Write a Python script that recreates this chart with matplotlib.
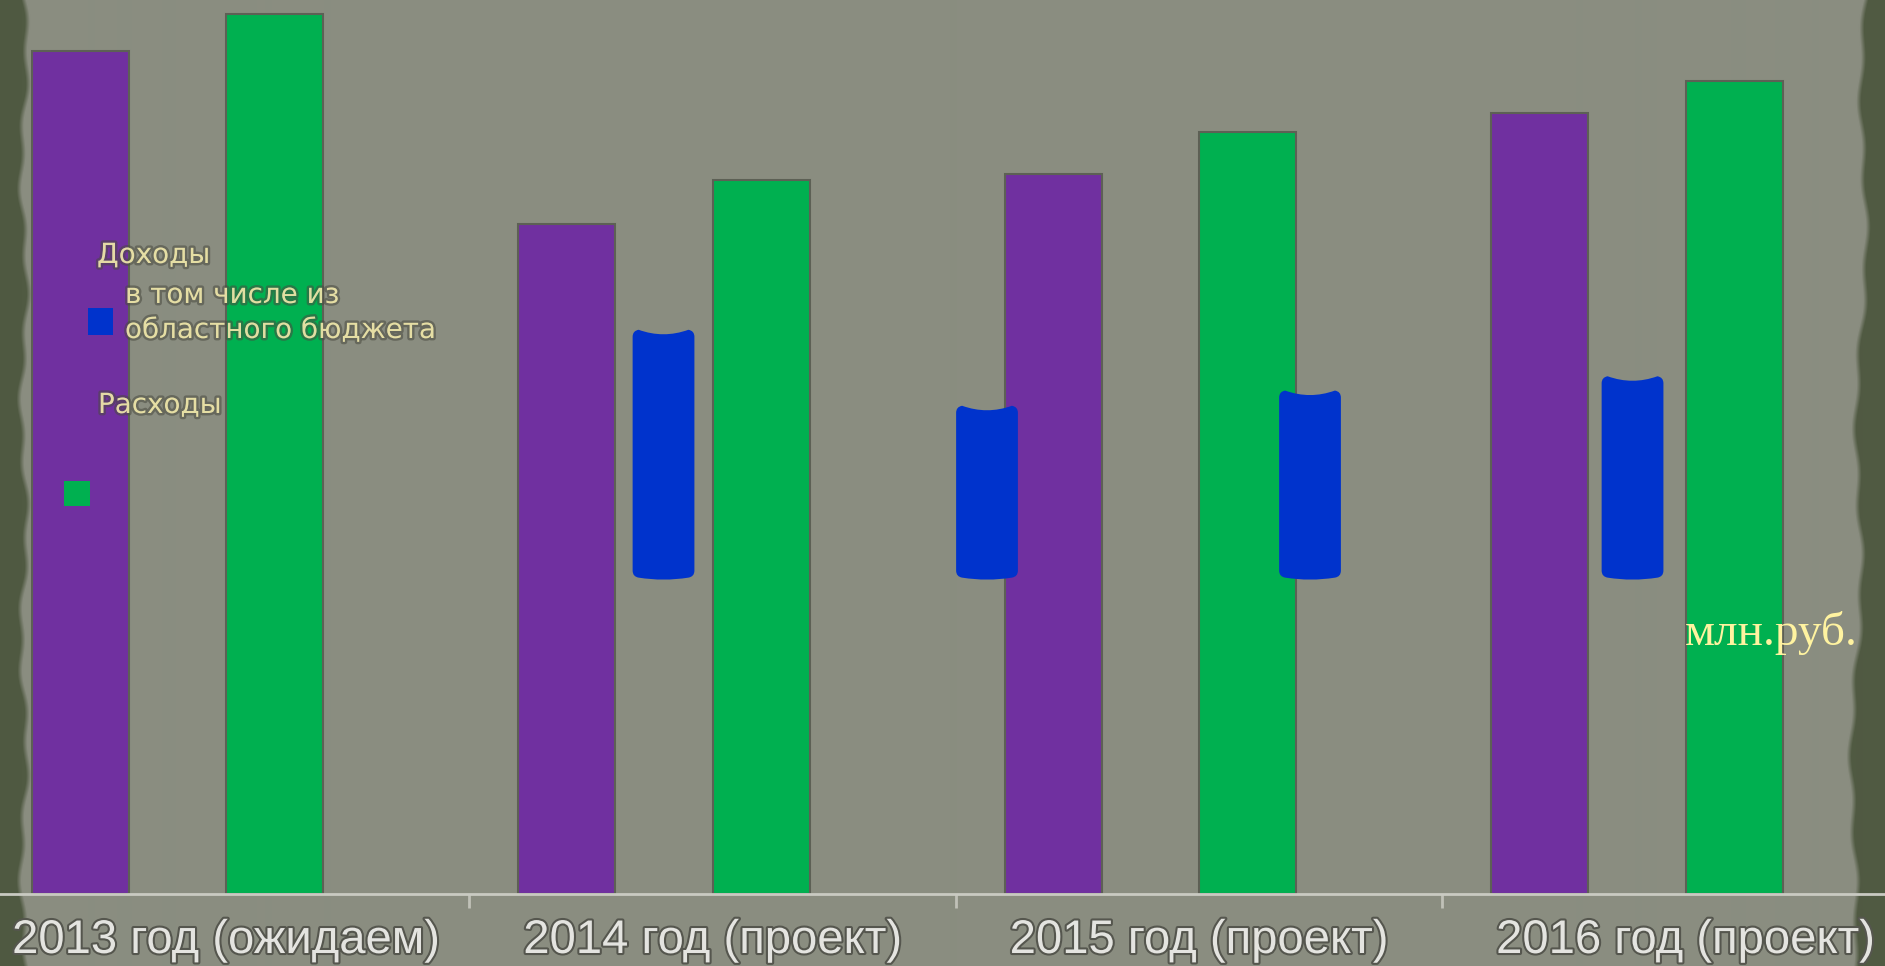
import numpy as np
import matplotlib
matplotlib.use("Agg")
import matplotlib.pyplot as plt
import matplotlib.patheffects as pe
from matplotlib.patches import Rectangle, PathPatch
from matplotlib.path import Path

# ---------------- data ----------------
categories = ["2013 год (ожидаем)", "2014 год (проект)", "2015 год (проект)", "2016 год (проект)"]
income = [943, 749, 805, 874]        # Доходы
expenses = [984, 799, 852, 909]      # Расходы
regional_top = [630, 545, 562, 578]  # в том числе из областного бюджета (floating shapes)
regional_base = [355, 355, 355, 355]
unit_label = "млн.руб."
legend_income = "Доходы"
legend_regional = "в том числе из\nобластного бюджета"
legend_expenses = "Расходы"

# ---------------- style ----------------
W, H = 1885, 966
PURPLE = "#7030a0"
GREEN = "#00b050"
BLUE = "#0033cc"
BG = np.array([138, 141, 128]) / 255.0
DARK = np.array([80, 90, 66]) / 255.0

fig = plt.figure(figsize=(W / 100, H / 100), dpi=100)

# background with darker ragged edges
bg = fig.add_axes([0, 0, 1, 1])
bg.set_axis_off()
yy, xx = np.mgrid[0:H, 0:W]
left_edge = 26 + 3 * np.sin(yy / 37.0) + 2 * np.sin(yy / 11.0)
right_edge = 1862 - 4 * np.sin(yy / 53.0) - 2 * np.sin(yy / 13.0) - 14 * (yy / H)
mask_l = np.clip((left_edge - xx) / 5.0, 0, 1)
mask_r = np.clip((xx - right_edge) / 5.0, 0, 1)
m = np.maximum(mask_l, mask_r)[..., None]
img = BG[None, None, :] * (1 - m) + DARK[None, None, :] * m
bg.imshow(img, extent=[0, 1, 0, 1], aspect="auto", origin="upper")
bg.set_xlim(0, 1)
bg.set_ylim(0, 1)

# main axes
ax = fig.add_axes([0, 72 / H, 1, 894 / H])
ax.set_facecolor("none")
ax.set_xlim(-0.465, 3.410)
ax.set_ylim(0, 1000)
for s in ["left", "right", "top"]:
    ax.spines[s].set_visible(False)
ax.spines["bottom"].set_color("#c9cac2")
ax.spines["bottom"].set_linewidth(2)
ax.yaxis.set_visible(False)

x = np.arange(len(categories))
bw = 0.2
ax.bar(x - 0.3, income, width=bw, color=PURPLE, edgecolor="#5d6055", linewidth=1.5, zorder=2)
ax.bar(x + 0.1, expenses, width=bw, color=GREEN, edgecolor="#5d6055", linewidth=1.5, zorder=2)

# floating "regional budget" shapes (rounded, concave top)
blue_pos = [0.899, 1.564, 2.228, 2.891]
blue_w = 0.127
T = ax.transData
Tinv = T.inverted()
for xc, lo, hi in zip(blue_pos, regional_base, regional_top):
    (px0, py0) = T.transform((xc - blue_w / 2, lo))
    (px1, py1) = T.transform((xc + blue_w / 2, hi))
    r = 6
    dip = 4
    mid = (px0 + px1) / 2
    verts = [
        (px0, py0 + r),
        (px0, py1 - r),
        (px0, py1), (px0 + r, py1 + 1),
        (mid, py1 - 2 * dip), (px1 - r, py1 + 1),
        (px1, py1), (px1, py1 - r),
        (px1, py0 + r),
        (px1, py0), (px1 - r, py0 - 1),
        (mid, py0 - 5), (px0 + r, py0 - 1),
        (px0, py0), (px0, py0 + r),
        (px0, py0 + r),
    ]
    codes = [Path.MOVETO, Path.LINETO,
             Path.CURVE3, Path.CURVE3,
             Path.CURVE3, Path.CURVE3,
             Path.CURVE3, Path.CURVE3,
             Path.LINETO,
             Path.CURVE3, Path.CURVE3,
             Path.CURVE3, Path.CURVE3,
             Path.CURVE3, Path.CURVE3,
             Path.CLOSEPOLY]
    dverts = Tinv.transform(np.array(verts))
    ax.add_patch(PathPatch(Path(dverts, codes), facecolor=BLUE, edgecolor="none", zorder=3))

# x ticks / labels
ax.set_xticks(x)
ax.set_xticklabels(categories, fontsize=34, family=["Liberation Sans", "DejaVu Sans"], color="#e4e4e0")
ax.tick_params(axis="x", which="major", length=0, pad=18)
ax.set_xticks([0.5, 1.5, 2.5], minor=True)
ax.tick_params(axis="x", which="minor", length=10, width=2, color="#c0c1b8", direction="out")
for lab in ax.get_xticklabels():
    lab.set_path_effects([pe.withStroke(linewidth=3, foreground="#55564e")])

# legend (text + squares)
leg_color = "#fff6b4"
leg_fx = [pe.withStroke(linewidth=3.5, foreground="#4a4a40", alpha=0.55)]
kw = dict(fontsize=20, family=["DejaVu Sans"], color=leg_color, alpha=0.8,
          va="baseline", ha="left", zorder=10, path_effects=leg_fx)
fig.text(97 / W, 1 - 263 / H, legend_income, **kw)
lines = legend_regional.split("\n")
fig.text(125 / W, 1 - 303 / H, lines[0], **kw)
fig.text(125 / W, 1 - 338 / H, lines[1], **kw)
fig.text(98 / W, 1 - 413 / H, legend_expenses, **kw)
fig.add_artist(Rectangle((88 / W, 1 - 335 / H), 25 / W, 27 / H, transform=fig.transFigure,
                         facecolor=BLUE, edgecolor="none", zorder=11))
fig.add_artist(Rectangle((64 / W, 1 - 506 / H), 26 / W, 25 / H, transform=fig.transFigure,
                         facecolor=GREEN, edgecolor="none", zorder=11))

# unit label
fig.text(1685 / W, 1 - 645 / H, unit_label, fontsize=34, family=["Liberation Serif"],
         color="#fff3a0", va="baseline", ha="left", zorder=10)

fig.savefig("out.png", dpi=100)
